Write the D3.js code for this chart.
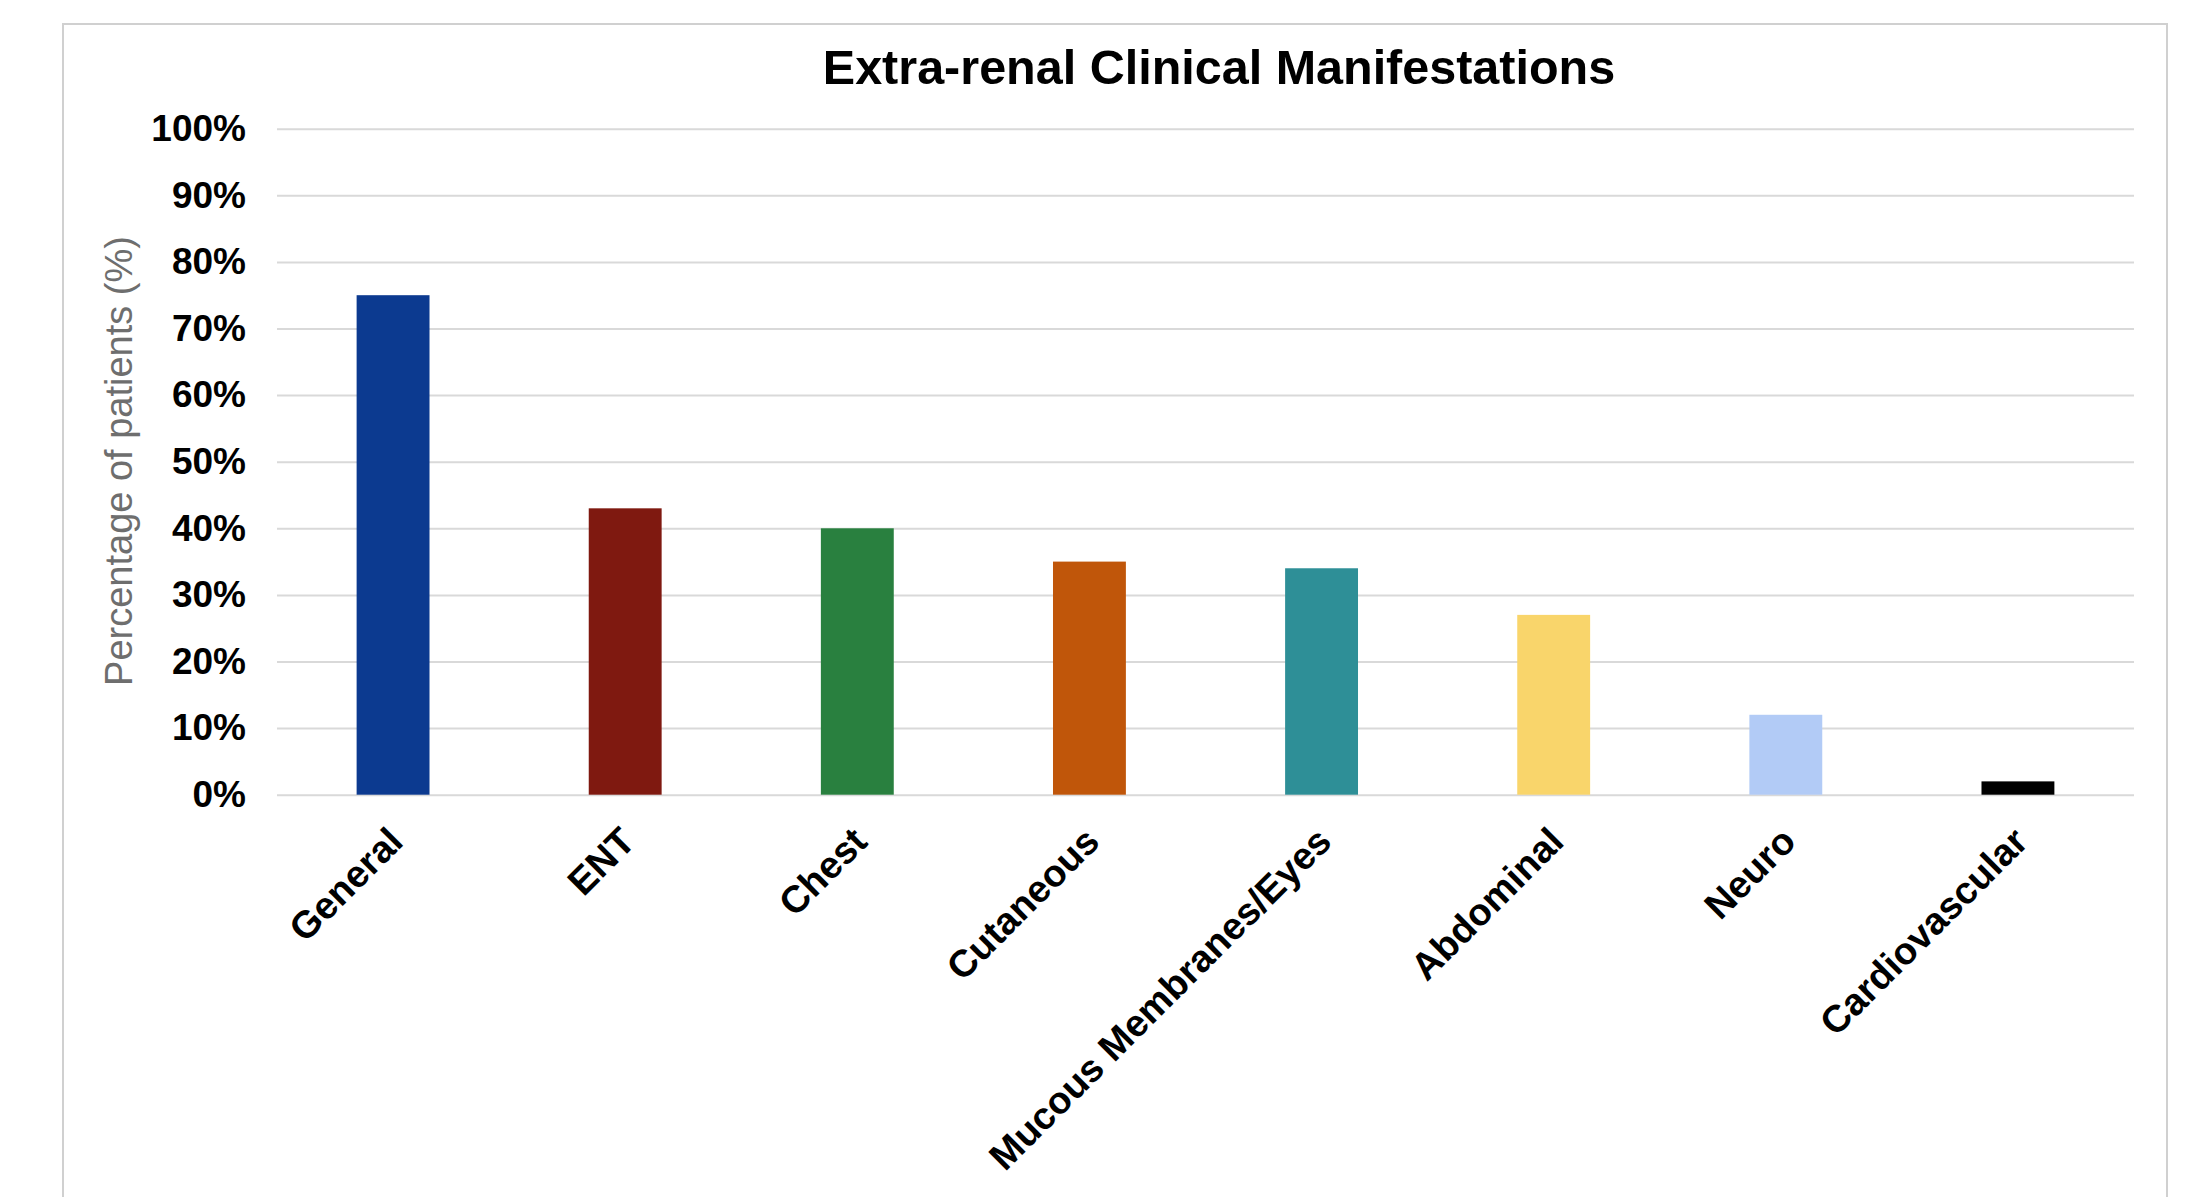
<!DOCTYPE html>
<html>
<head>
<meta charset="utf-8">
<script src="https://cdn.jsdelivr.net/npm/d3@7"></script>
<style>
  html, body { margin: 0; padding: 0; background: #ffffff; }
  svg { display: block; }
  text { font-family: "Liberation Sans", Arial, Helvetica, sans-serif; }
</style>
</head>
<body>
<svg id="chart" width="2194" height="1197"></svg>
<script>
// Extra-renal manifestations: share of patients per organ system
const categories = ["General", "ENT", "Chest", "Cutaneous", "Mucous Membranes/Eyes", "Abdominal", "Neuro", "Cardiovascular"];
const percentages = [75, 43, 40, 35, 34, 27, 12, 2];
const barColors = ["#0c3a90", "#7f1910", "#29803f", "#c0560a", "#2e8f97", "#f9d56b", "#b2cbf6", "#000000"];
const yTicks = [0, 10, 20, 30, 40, 50, 60, 70, 80, 90, 100];
const chartTitle = "Extra-renal Clinical Manifestations";
const yAxisTitle = "Percentage of patients (%)";

const svg = d3.select("#chart");

// Chart frame
const frame = { left: 63, top: 24, right: 2167, bottom: 1230 };
svg.append("rect")
  .attr("x", frame.left).attr("y", frame.top)
  .attr("width", frame.right - frame.left)
  .attr("height", frame.bottom - frame.top)
  .attr("fill", "#ffffff")
  .attr("stroke", "#d0d0d0")
  .attr("stroke-width", 2);

// Plot area
const plot = { left: 277, right: 2134, top: 128.7, bottom: 794.7 };

const x = d3.scaleBand()
  .domain(categories)
  .range([plot.left, plot.right])
  .paddingInner(0.686)
  .paddingOuter(0.343);

const y = d3.scaleLinear()
  .domain([0, 100])
  .range([plot.bottom, plot.top]);

// Horizontal gridlines with percentage labels
const yAxis = d3.axisLeft(y)
  .tickValues(yTicks)
  .tickSize(-(plot.right - plot.left))
  .tickPadding(31)
  .tickFormat(d => d + "%");

const yg = svg.append("g")
  .attr("transform", `translate(${plot.left},0)`)
  .call(yAxis);
yg.select(".domain").remove();
yg.selectAll(".tick line")
  .attr("stroke", "#d9d9d9")
  .attr("stroke-width", 2);
yg.selectAll(".tick text")
  .attr("fill", "#000000")
  .attr("font-size", 37)
  .attr("font-weight", "bold")
  .attr("font-family", "'Liberation Sans', Arial, sans-serif");

// Bars
svg.append("g")
  .selectAll("rect")
  .data(categories)
  .join("rect")
  .attr("x", d => x(d))
  .attr("y", (d, i) => y(percentages[i]))
  .attr("width", x.bandwidth())
  .attr("height", (d, i) => y(0) - y(percentages[i]))
  .attr("fill", (d, i) => barColors[i]);

// Category labels, rotated 45 degrees
const xAxis = d3.axisBottom(x).tickSize(0).tickPadding(0);
const xg = svg.append("g")
  .attr("transform", `translate(0,${plot.bottom})`)
  .call(xAxis);
xg.select(".domain").remove();
xg.selectAll(".tick text")
  .attr("fill", "#000000")
  .attr("font-size", 38)
  .attr("font-weight", "bold")
  .attr("font-family", "'Liberation Sans', Arial, sans-serif")
  .attr("text-anchor", "end")
  .attr("dy", null)
  .attr("y", null)
  .attr("transform", "translate(12,49) rotate(-45)");

// Chart title
svg.append("text")
  .attr("x", 1219)
  .attr("y", 84)
  .attr("text-anchor", "middle")
  .attr("font-size", 48.5)
  .attr("font-weight", "bold")
  .attr("fill", "#000000")
  .text(chartTitle);

// Vertical axis title
svg.append("text")
  .attr("transform", "translate(132,461) rotate(-90)")
  .attr("text-anchor", "middle")
  .attr("font-size", 38)
  .attr("fill", "#6e6e6e")
  .text(yAxisTitle);
</script>
</body>
</html>
